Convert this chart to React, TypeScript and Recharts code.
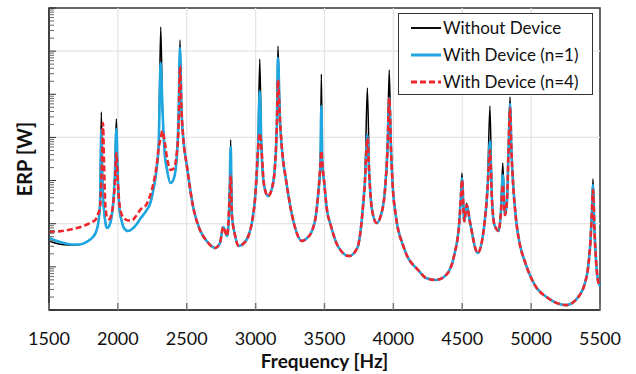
import React from 'react';
import { LineChart, Line, XAxis, YAxis, ReferenceLine, ReferenceArea } from 'recharts';

// frequency points [Hz]
const frequencies = [
  1500, 1545, 1594, 1638, 1689, 1740, 1783, 1819, 1841, 1859,
  1870, 1880, 1887, 1892, 1899, 1907, 1914, 1921, 1936, 1950,
  1965, 1978, 1989, 1999, 2012, 2026, 2044, 2074, 2103, 2132,
  2161, 2209, 2233, 2257, 2282, 2296, 2311, 2324, 2338, 2357,
  2383, 2407, 2426, 2440, 2451, 2462, 2476, 2500, 2548, 2596,
  2645, 2705, 2741, 2765, 2794, 2810, 2819, 2828, 2850, 2877,
  2908, 2950, 2974, 2998, 3017, 3030, 3043, 3061, 3090, 3119,
  3141, 3155, 3162, 3177, 3199, 3215, 3264, 3337, 3373, 3409,
  3438, 3458, 3470, 3477, 3485, 3496, 3518, 3545, 3593, 3678,
  3738, 3758, 3774, 3794, 3811, 3827, 3845, 3879, 3910, 3939,
  3957, 3970, 3983, 3997, 4017, 4077, 4186, 4237, 4309, 4382,
  4442, 4479, 4491, 4498, 4515, 4532, 4556, 4612, 4660, 4683,
  4701, 4716, 4734, 4765, 4781, 4794, 4810, 4825, 4836, 4847,
  4857, 4868, 4892, 4919, 4953, 5026, 5122, 5255, 5353, 5391,
  5413, 5431, 5442, 5449, 5460, 5471, 5486, 5500,
];

// ERP, arbitrary units (log axis has no labels in the original)
const withoutDevice = [
  39.7, 35.6, 32.9, 32.1, 32.1, 33.9, 39.7, 49.1, 64.2, 110,
  272, 38800, 1350, 462, 207, 121, 88.4, 79.6, 88.4, 121,
  272, 1350, 26600, 1350, 207, 121, 79.6, 67.7, 75.3, 93.3,
  128, 207, 286, 605, 1950, 6670, 3620000, 43300, 5100, 1760,
  876, 1140, 2990, 25300, 1810000, 43300, 8700, 2290, 231, 71.4,
  39.7, 27.4, 35.6, 83.9, 51.8, 353, 8850, 159, 54.8, 30.4,
  33.9, 54.8, 110, 462, 5100, 656000, 5100, 790, 437, 671,
  2290, 25300, 1310000, 25300, 2990, 1350, 159, 39.7, 46.6, 67.7,
  159, 671, 2290, 295000, 2290, 1030, 207, 93.3, 32.1, 17.8,
  27.4, 54.8, 159, 1030, 140000, 1030, 207, 104, 159, 605,
  5100, 365000, 5100, 605, 159, 27.4, 8.01, 5.52, 4.97, 6.45,
  18.8, 114, 462, 1500, 114, 299, 110, 21.0, 93.3, 605,
  53400, 353, 93.3, 67.7, 196, 2550, 159, 353, 5100, 86400,
  5100, 973, 114, 32.1, 13.7, 3.80, 1.90, 1.30, 2.22, 4.24,
  9.42, 40.8, 207, 1090, 71.4, 14.4, 4.71, 3.61,
];

const withDeviceN1 = [
  46.6, 40.8, 36.7, 33.9, 32.9, 33.9, 39.7, 49.1, 64.2, 110,
  272, 14900, 1350, 462, 207, 121, 88.4, 79.6, 88.4, 121,
  272, 1350, 15600, 1350, 207, 121, 79.6, 67.7, 75.3, 93.3,
  128, 207, 286, 605, 1950, 6670, 530000, 43300, 5100, 1760,
  876, 1140, 2990, 25300, 1180000, 43300, 8700, 2290, 231, 71.4,
  39.7, 27.4, 35.6, 83.9, 51.8, 353, 5990, 159, 54.8, 30.4,
  33.9, 54.8, 110, 462, 5100, 119000, 5100, 790, 437, 671,
  2290, 25300, 692000, 25300, 2990, 1350, 159, 39.7, 46.6, 67.7,
  159, 671, 2290, 53400, 2290, 1030, 207, 93.3, 32.1, 17.8,
  27.4, 54.8, 159, 1030, 11400, 1030, 207, 104, 159, 605,
  5100, 81800, 5100, 605, 159, 27.4, 8.01, 5.52, 4.97, 6.45,
  18.8, 114, 462, 1140, 114, 272, 110, 21.0, 93.3, 605,
  8240, 353, 93.3, 67.7, 196, 1350, 159, 353, 5100, 59500,
  5100, 973, 114, 32.1, 13.7, 3.80, 1.90, 1.30, 2.22, 4.24,
  9.42, 40.8, 207, 790, 71.4, 14.4, 4.71, 3.61,
];

const withDeviceN4 = [
  64.2, 65.9, 67.7, 71.4, 77.4, 86.1, 98.4, 112, 128, 177,
  231, 1030, 5100, 21600, 2990, 353, 188, 135, 128, 151,
  272, 790, 4360, 1030, 272, 169, 135, 119, 121, 151,
  207, 286, 437, 829, 2290, 5690, 9680, 14200, 8700, 3330,
  1760, 1950, 3910, 14900, 452000, 43300, 8700, 2290, 231, 71.4,
  39.7, 27.4, 35.6, 83.9, 51.8, 353, 1350, 159, 54.8, 30.4,
  33.9, 54.8, 110, 462, 5100, 12500, 5100, 790, 437, 671,
  2290, 25300, 214000, 25300, 2990, 1350, 159, 39.7, 46.6, 67.7,
  159, 671, 2290, 4840, 2290, 1030, 207, 93.3, 32.1, 17.8,
  27.4, 54.8, 159, 1030, 9680, 1030, 207, 104, 159, 605,
  5100, 81800, 5100, 605, 159, 27.4, 8.01, 5.52, 4.97, 6.45,
  18.8, 114, 462, 1030, 114, 272, 110, 21.0, 93.3, 605,
  5100, 353, 93.3, 67.7, 196, 790, 159, 353, 5100, 48000,
  5100, 973, 114, 32.1, 13.7, 3.80, 1.90, 1.30, 2.22, 4.24,
  9.42, 40.8, 207, 605, 71.4, 14.4, 4.71, 3.61,
];

const xTicks = [1500, 2000, 2500, 3000, 3500, 4000, 4500, 5000, 5500];
const yTicks = [
  1, 2, 3, 4, 5, 6, 7, 8, 9,
  10, 20, 30, 40, 50, 60, 70, 80, 90,
  100, 200, 300, 400, 500, 600, 700, 800, 900,
  1e3, 2e3, 3e3, 4e3, 5e3, 6e3, 7e3, 8e3, 9e3,
  1e4, 2e4, 3e4, 4e4, 5e4, 6e4, 7e4, 8e4, 9e4,
  1e5, 2e5, 3e5, 4e5, 5e5, 6e5, 7e5, 8e5, 9e5,
  1e6, 2e6, 3e6, 4e6, 5e6, 6e6, 7e6, 8e6, 9e6, 1e7,
];
const decades = [1, 1e1, 1e2, 1e3, 1e4, 1e5, 1e6, 1e7];
const gridX = [2000, 2500, 3000, 3500, 4000, 4500, 5000];
const gridY = [1e2, 1e4, 1e6];

const seriesInfo = [
  { key: 'without', name: 'Without Device', color: '#000000', width: 1.5, dash: undefined },
  { key: 'n1', name: 'With Device (n=1)', color: '#1ea7e1', width: 2.6, dash: undefined },
  { key: 'n4', name: 'With Device (n=4)', color: '#f0282d', width: 2.6, dash: '6 3' },
];

const data = frequencies.map((f, i) => ({
  f,
  without: withoutDevice[i],
  n1: withDeviceN1[i],
  n4: withDeviceN4[i],
}));

const FONT = 'Lato, "Open Sans", sans-serif';

const XTick = (props: any) => {
  const { x, y, payload } = props;
  return (
    <g>
      <line x1={x} x2={x} y1={y} y2={y - 7} stroke="#777" strokeWidth={1.5} />
      <text x={x} y={y + 35} textAnchor="middle" fontFamily={FONT} fontSize={18} fill="#111">
        {payload.value}
      </text>
    </g>
  );
};

const YTick = (props: any) => {
  const { x, y, payload } = props;
  const major = decades.includes(payload.value);
  return <line x1={x} x2={x + (major ? 7 : 5)} y1={y} y2={y} stroke={major ? '#333' : '#666'} strokeWidth={1} />;
};

const LegendBox = () => (
  <div
    style={{
      position: 'absolute',
      left: 398,
      top: 13,
      width: 195,
      height: 82,
      border: '1px solid #333',
      background: '#fff',
      boxSizing: 'border-box',
      fontFamily: FONT,
      fontSize: 17,
      color: '#111',
    }}
  >
    {seriesInfo.map((s) => (
      <div key={s.key} style={{ display: 'flex', alignItems: 'center', height: 27 }}>
        <svg width={44} height={10} style={{ flex: 'none' }}>
          <line x1={12} x2={42} y1={5} y2={5} stroke={s.color} strokeWidth={s.width + 0.4} strokeDasharray={s.dash} />
        </svg>
        <span style={{ whiteSpace: 'nowrap' }}>{s.name}</span>
      </div>
    ))}
  </div>
);

export default function App() {
  return (
    <div style={{ position: 'absolute', left: 0, top: 0, width: 636, height: 374, background: '#fff' }}>
      <LineChart width={636} height={374} data={data} margin={{ top: 8, right: 36, left: 0, bottom: 0 }}>
        <XAxis
          dataKey="f"
          type="number"
          domain={[1500, 5500]}
          ticks={xTicks}
          interval={0}
          height={64}
          tickSize={0}
          tickMargin={0}
          tickLine={false}
          tick={<XTick />}
          axisLine={{ stroke: '#333', strokeWidth: 1.5 }}
          label={{ value: 'Frequency [Hz]', position: 'insideBottom', offset: 6, style: { fontFamily: FONT, fontSize: 19, fontWeight: 700, fill: '#111' } }}
        />
        <YAxis
          type="number"
          scale="log"
          domain={[1, 1e7]}
          allowDataOverflow
          ticks={yTicks}
          interval={0}
          width={49}
          tickSize={0}
          tickMargin={0}
          tickLine={false}
          tick={<YTick />}
          axisLine={{ stroke: '#333', strokeWidth: 1.5 }}
          label={{ value: 'ERP [W]', angle: -90, position: 'center', style: { fontFamily: FONT, fontSize: 20, fontWeight: 700, fill: '#111' } }}
        />
        {gridX.map((v) => (
          <ReferenceLine key={'gx' + v} x={v} stroke="#e4e4e4" strokeWidth={1.2} />
        ))}
        {gridY.map((v) => (
          <ReferenceLine key={'gy' + v} y={v} stroke="#e4e4e4" strokeWidth={1.2} />
        ))}
        <ReferenceArea x1={1500} x2={5500} y1={1} y2={1e7} fill="none" stroke="#333" strokeWidth={1.5} />
        {seriesInfo.map((s) => (
          <Line
            key={s.key}
            type="monotone"
            dataKey={s.key}
            name={s.name}
            stroke={s.color}
            strokeWidth={s.width}
            strokeDasharray={s.dash}
            strokeLinejoin="round"
            dot={false}
            activeDot={false}
            isAnimationActive={false}
          />
        ))}
      </LineChart>
      <LegendBox />
    </div>
  );
}
